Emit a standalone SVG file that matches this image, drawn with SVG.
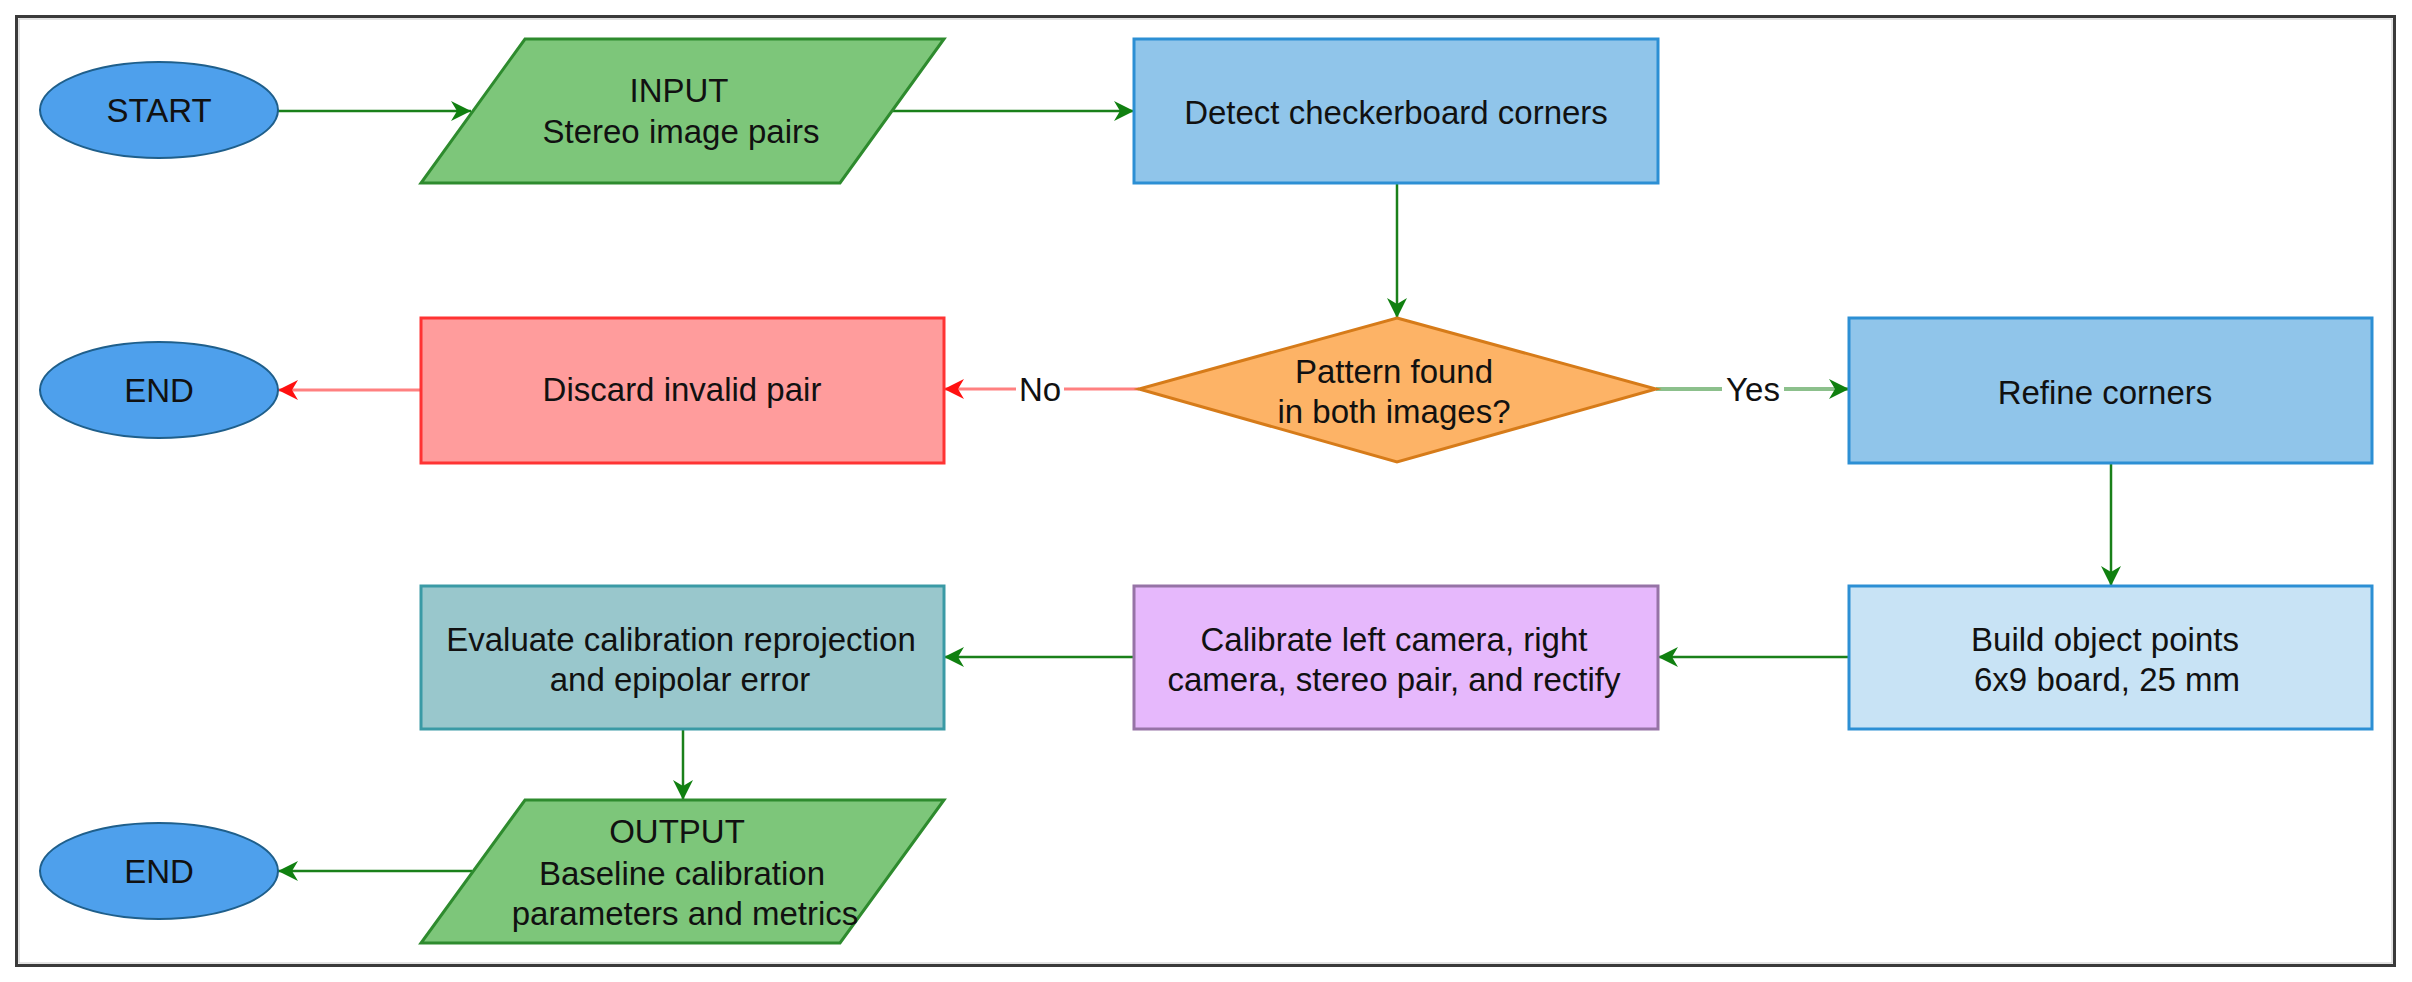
<svg xmlns="http://www.w3.org/2000/svg" width="2412" height="982" viewBox="0 0 2412 982">
<style>
text{font-family:"Liberation Sans",Arial,sans-serif;font-size:33px;fill:#111;text-anchor:middle}
.term{fill:#4EA0EC;stroke:#1F5F8B;stroke-width:2}
.io{fill:#7DC67A;stroke:#2E8B2E;stroke-width:3}
.proc{fill:#90C5EA;stroke:#2C8FD4;stroke-width:3}
.e{fill:none;stroke:#1A801A;stroke-width:2.5}
.ey{fill:none;stroke:#8CC08C;stroke-width:4}
.er{fill:none;stroke:#FF8080;stroke-width:3}
</style>
<defs>
<marker id="ag" viewBox="-22 -11 24 22" refX="0" refY="0" markerWidth="24" markerHeight="22" markerUnits="userSpaceOnUse" orient="auto">
<path d="M0,0 L-20,-10 L-14,0 L-20,10 Z" fill="#108010"/>
</marker>
<marker id="ar" viewBox="-22 -11 24 22" refX="0" refY="0" markerWidth="24" markerHeight="22" markerUnits="userSpaceOnUse" orient="auto">
<path d="M0,0 L-20,-10 L-14,0 L-20,10 Z" fill="#FF1010"/>
</marker>
</defs>
<rect width="2412" height="982" fill="#fff"/>
<rect x="16.5" y="16.5" width="2378" height="949" fill="none" stroke="#3a3a3a" stroke-width="3"/>
<rect x="19" y="19" width="2373" height="944" fill="none" stroke="#c8c8c8" stroke-width="1"/>

<g id="connectors">
<line class="e" x1="278" y1="111" x2="471" y2="111" marker-end="url(#ag)"/>
<line class="e" x1="893" y1="111" x2="1134" y2="111" marker-end="url(#ag)"/>
<line class="e" x1="1397" y1="183" x2="1397" y2="318" marker-end="url(#ag)"/>
<line class="ey" x1="1656" y1="389" x2="1722" y2="389"/>
<line class="ey" x1="1784" y1="389" x2="1849" y2="389" marker-end="url(#ag)"/>
<text x="1753" y="401">Yes</text>
<line class="er" x1="1139" y1="389" x2="1064" y2="389"/>
<line class="er" x1="1016" y1="389" x2="944" y2="389" marker-end="url(#ar)"/>
<text x="1040" y="401">No</text>
<line class="er" x1="421" y1="390" x2="278" y2="390" marker-end="url(#ar)"/>
<line class="e" x1="2111" y1="463" x2="2111" y2="586" marker-end="url(#ag)"/>
<line class="e" x1="1849" y1="657" x2="1658" y2="657" marker-end="url(#ag)"/>
<line class="e" x1="1134" y1="657" x2="944" y2="657" marker-end="url(#ag)"/>
<line class="e" x1="683" y1="729" x2="683" y2="800" marker-end="url(#ag)"/>
<line class="e" x1="472" y1="871" x2="278" y2="871" marker-end="url(#ag)"/>
</g>

<g id="start">
<ellipse class="term" cx="159" cy="110" rx="119" ry="48"/>
<text x="159" y="122">START</text>
</g>
<g id="input">
<polygon class="io" points="525,39 944,39 840,183 421,183"/>
<text x="679" y="102">INPUT</text>
<text x="681" y="143">Stereo image pairs</text>
</g>
<g id="detect">
<rect class="proc" x="1134" y="39" width="524" height="144"/>
<text x="1396" y="124">Detect checkerboard corners</text>
</g>
<g id="decision">
<polygon points="1397,318 1656,389 1397,462 1139,389" fill="#FDB366" stroke="#D67B19" stroke-width="3"/>
<text x="1394" y="383">Pattern found</text>
<text x="1394" y="423">in both images?</text>
</g>
<g id="discard">
<rect x="421" y="318" width="523" height="145" fill="#FF9C9C" stroke="#FF3333" stroke-width="3"/>
<text x="682" y="401">Discard invalid pair</text>
</g>
<g id="end1">
<ellipse class="term" cx="159" cy="390" rx="119" ry="48"/>
<text x="159" y="402">END</text>
</g>
<g id="refine">
<rect class="proc" x="1849" y="318" width="523" height="145"/>
<text x="2105" y="404">Refine corners</text>
</g>
<g id="build">
<rect x="1849" y="586" width="523" height="143" fill="#C8E3F5" stroke="#2C8FD4" stroke-width="3"/>
<text x="2105" y="651">Build object points</text>
<text x="2107" y="691">6x9 board, 25 mm</text>
</g>
<g id="calibrate">
<rect x="1134" y="586" width="524" height="143" fill="#E6B8FC" stroke="#9673A6" stroke-width="3"/>
<text x="1394" y="651">Calibrate left camera, right</text>
<text x="1394" y="691">camera, stereo pair, and rectify</text>
</g>
<g id="evaluate">
<rect x="421" y="586" width="523" height="143" fill="#99C7CC" stroke="#3A9AA5" stroke-width="3"/>
<text x="681" y="651">Evaluate calibration reprojection</text>
<text x="680" y="691">and epipolar error</text>
</g>
<g id="output">
<polygon class="io" points="525,800 944,800 840,943 421,943"/>
<text x="677" y="843">OUTPUT</text>
<text x="682" y="885">Baseline calibration</text>
<text x="685" y="925">parameters and metrics</text>
</g>
<g id="end2">
<ellipse class="term" cx="159" cy="871" rx="119" ry="48"/>
<text x="159" y="883">END</text>
</g>
</svg>
